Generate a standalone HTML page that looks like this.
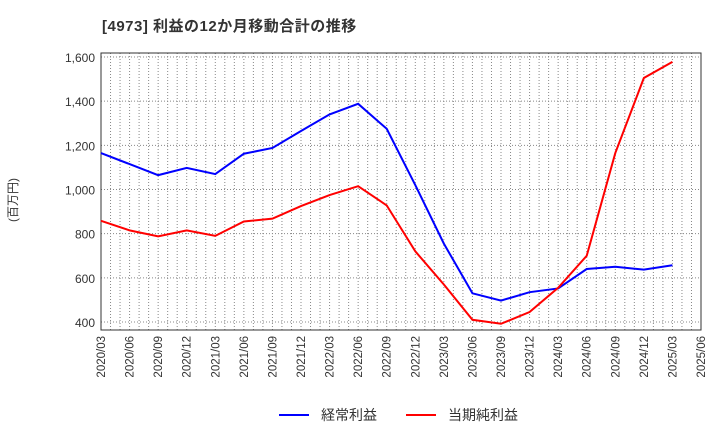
<!DOCTYPE html>
<html><head><meta charset="utf-8"><style>
body{margin:0;background:#fff;font-family:"Liberation Sans","Noto Sans CJK JP",sans-serif;}
</style></head><body>
<svg id="c" width="720" height="440" xmlns="http://www.w3.org/2000/svg">
<text x="102" y="31" font-size="15" font-weight="bold" fill="#333" letter-spacing="0.5">[4973]  利益の12か月移動合計の推移</text>
<text transform="translate(17,200) rotate(-90)" font-size="12" fill="#333" text-anchor="middle">(百万円)</text>
<g id="grid"></g><g id="axes"></g><g id="series"></g>
<g>
<line x1="279" y1="415" x2="309" y2="415" stroke="#0000ff" stroke-width="2"/>
<text x="321" y="420" font-size="14" fill="#333">経常利益</text>
<line x1="406" y1="415" x2="436" y2="415" stroke="#ff0000" stroke-width="2"/>
<text x="448" y="420" font-size="14" fill="#333">当期純利益</text>
</g>
</svg>
<script>
const categories=["2020/03","2020/06","2020/09","2020/12","2021/03","2021/06","2021/09","2021/12","2022/03","2022/06","2022/09","2022/12","2023/03","2023/06","2023/09","2023/12","2024/03","2024/06","2024/09","2024/12","2025/03","2025/06"];
const ordinaryProfit=[1165,1115,1065,1098,1070,1162,1188,1265,1340,1388,1275,1020,755,530,497,535,552,640,650,637,657];
const netProfit=[858,815,788,815,790,855,868,925,975,1015,928,720,570,410,392,445,555,700,1165,1505,1578];
const yTicks=[400,600,800,1000,1200,1400,1600];
const L=101,R=701,T=53,B=330;
const x=i=>L+i*(R-L)/(categories.length-1);
const y=v=>322-(v-400)*(322-57)/1200;
const ns="http://www.w3.org/2000/svg";
function mk(tag,attrs,parent){const e=document.createElementNS(ns,tag);for(const k in attrs)e.setAttribute(k,attrs[k]);document.getElementById(parent).appendChild(e);return e;}
for(let m=1;m<(categories.length-1)*3;m++){const xx=L+m*(R-L)/((categories.length-1)*3);
const g=mk('line',{x1:xx,x2:xx,y1:T,y2:B,stroke:'#888','stroke-dasharray':'1,2','stroke-width':1},'grid');

}
yTicks.forEach(v=>{const g=mk('line',{x1:L,x2:R,y1:y(v),y2:y(v),stroke:'#888','stroke-dasharray':'1,2','stroke-width':1},'grid');


const t=mk('text',{x:L-6,y:y(v)+5,'text-anchor':'end','font-size':12,fill:'#333'},'axes');t.textContent=v.toLocaleString('en-US');

});
const fr=mk('rect',{x:L,y:T,width:R-L,height:B-T,fill:'none',stroke:'#333','stroke-width':1},'axes');


categories.forEach((c,i)=>{const t=mk('text',{transform:`translate(${x(i)+4},${B+6}) rotate(-90)`,'text-anchor':'end','font-size':11.5,fill:'#333'},'axes');t.textContent=c;

});
function line(data,color,name){const p=mk('polyline',{points:data.map((v,i)=>x(i)+','+y(v)).join(' '),fill:'none',stroke:color,'stroke-width':2},'series');

}
line(ordinaryProfit,'#0000ff','ordinary-profit-line');
line(netProfit,'#ff0000','net-profit-line');
</script>
</body></html>
